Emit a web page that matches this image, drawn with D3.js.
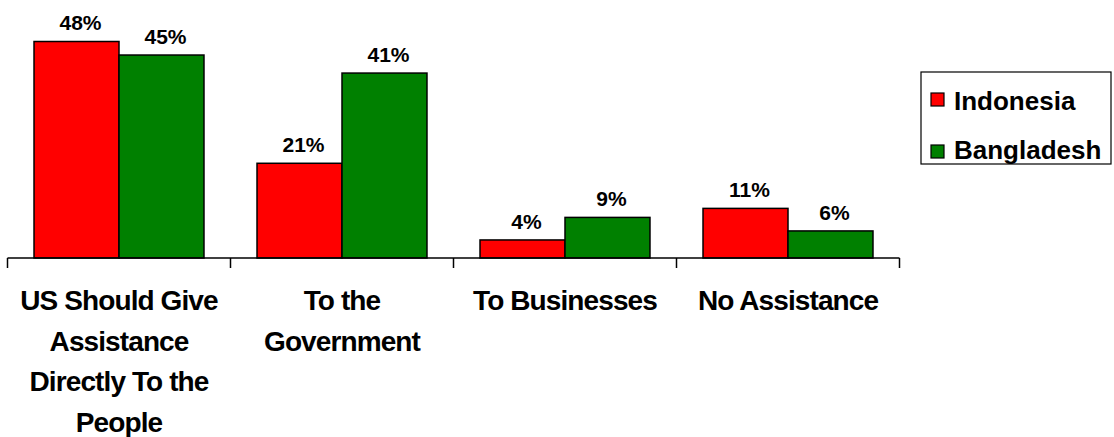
<!DOCTYPE html>
<html>
<head>
<meta charset="utf-8">
<script src="https://cdn.jsdelivr.net/npm/d3@7"></script>
<style>
  html, body { margin: 0; padding: 0; background: #fff; }
  svg { display: block; }
  text { font-family: "Liberation Sans", Arial, sans-serif; font-weight: bold; fill: #000; }
</style>
</head>
<body>
<svg id="chart" width="1114" height="437"></svg>
<script>
const categories = [
  ["US Should Give", "Assistance", "Directly To the", "People"],
  ["To the", "Government"],
  ["To Businesses"],
  ["No Assistance"]
];
const seriesNames = ["Indonesia", "Bangladesh"];
const seriesColors = ["#FF0000", "#008000"];
const indonesia = [48, 21, 4, 11];
const bangladesh = [45, 41, 9, 6];
const valueFormat = v => v + "%";

const svg = d3.select("#chart");
const catKeys = categories.map((c, i) => i);

const x0 = d3.scaleBand().domain(catKeys).range([7.5, 899.5]).paddingInner(0).paddingOuter(0);
const x1 = d3.scaleBand().domain(seriesNames).range([0, x0.bandwidth()]).paddingInner(0).paddingOuter(0.312);
const y = d3.scaleLinear().domain([0, 57.2]).range([258, 0]);

const data = catKeys.map(i => ({
  cat: i,
  values: [
    { series: seriesNames[0], value: indonesia[i], color: seriesColors[0] },
    { series: seriesNames[1], value: bangladesh[i], color: seriesColors[1] }
  ]
}));

const groups = svg.selectAll("g.cat").data(data).join("g")
  .attr("class", "cat")
  .attr("transform", d => `translate(${x0(d.cat)},0)`);

groups.selectAll("rect").data(d => d.values).join("rect")
  .attr("x", d => x1(d.series))
  .attr("y", d => y(d.value))
  .attr("width", x1.bandwidth())
  .attr("height", d => y(0) - y(d.value))
  .attr("fill", d => d.color)
  .attr("stroke", "#000")
  .attr("stroke-width", 1.5);

groups.selectAll("text.val").data(d => d.values).join("text")
  .attr("class", "val")
  .attr("x", d => x1(d.series) + x1.bandwidth() / 2 + 4)
  .attr("y", d => y(d.value) - 11)
  .attr("text-anchor", "middle")
  .style("font-size", "21px")
  .text(d => valueFormat(d.value));

// axis
const axisG = svg.append("g");
axisG.append("line")
  .attr("x1", x0.range()[0]).attr("x2", x0.range()[1])
  .attr("y1", y(0)).attr("y2", y(0))
  .attr("stroke", "#000").attr("stroke-width", 1.5);
const tickPos = catKeys.map(i => x0(i)).concat([x0.range()[1]]);
axisG.selectAll("line.tick").data(tickPos).join("line")
  .attr("class", "tick")
  .attr("x1", d => d).attr("x2", d => d)
  .attr("y1", y(0)).attr("y2", y(0) + 10)
  .attr("stroke", "#000").attr("stroke-width", 1.5);

// category labels
const labG = svg.append("g");
catKeys.forEach(i => {
  const t = labG.append("text")
    .attr("text-anchor", "middle")
    .style("font-size", "28px")
    .style("letter-spacing", "-0.9px");
  categories[i].forEach((line, j) => {
    t.append("tspan")
      .attr("x", x0(i) + x0.bandwidth() / 2)
      .attr("y", 310 + j * 40.5)
      .text(line);
  });
});

// legend
const leg = svg.append("g");
leg.append("rect")
  .attr("x", 921).attr("y", 72).attr("width", 190).attr("height", 92)
  .attr("fill", "#fff").attr("stroke", "#000").attr("stroke-width", 1.2);
seriesNames.forEach((name, i) => {
  leg.append("rect")
    .attr("x", 931).attr("y", 93 + i * 52).attr("width", 13).attr("height", 13)
    .attr("fill", seriesColors[i]).attr("stroke", "#000").attr("stroke-width", 1.2);
  leg.append("text")
    .attr("x", 954).attr("y", 110 + i * 49)
    .style("font-size", "26px")
    .style("letter-spacing", "0px")
    .text(name);
});
</script>
</body>
</html>
